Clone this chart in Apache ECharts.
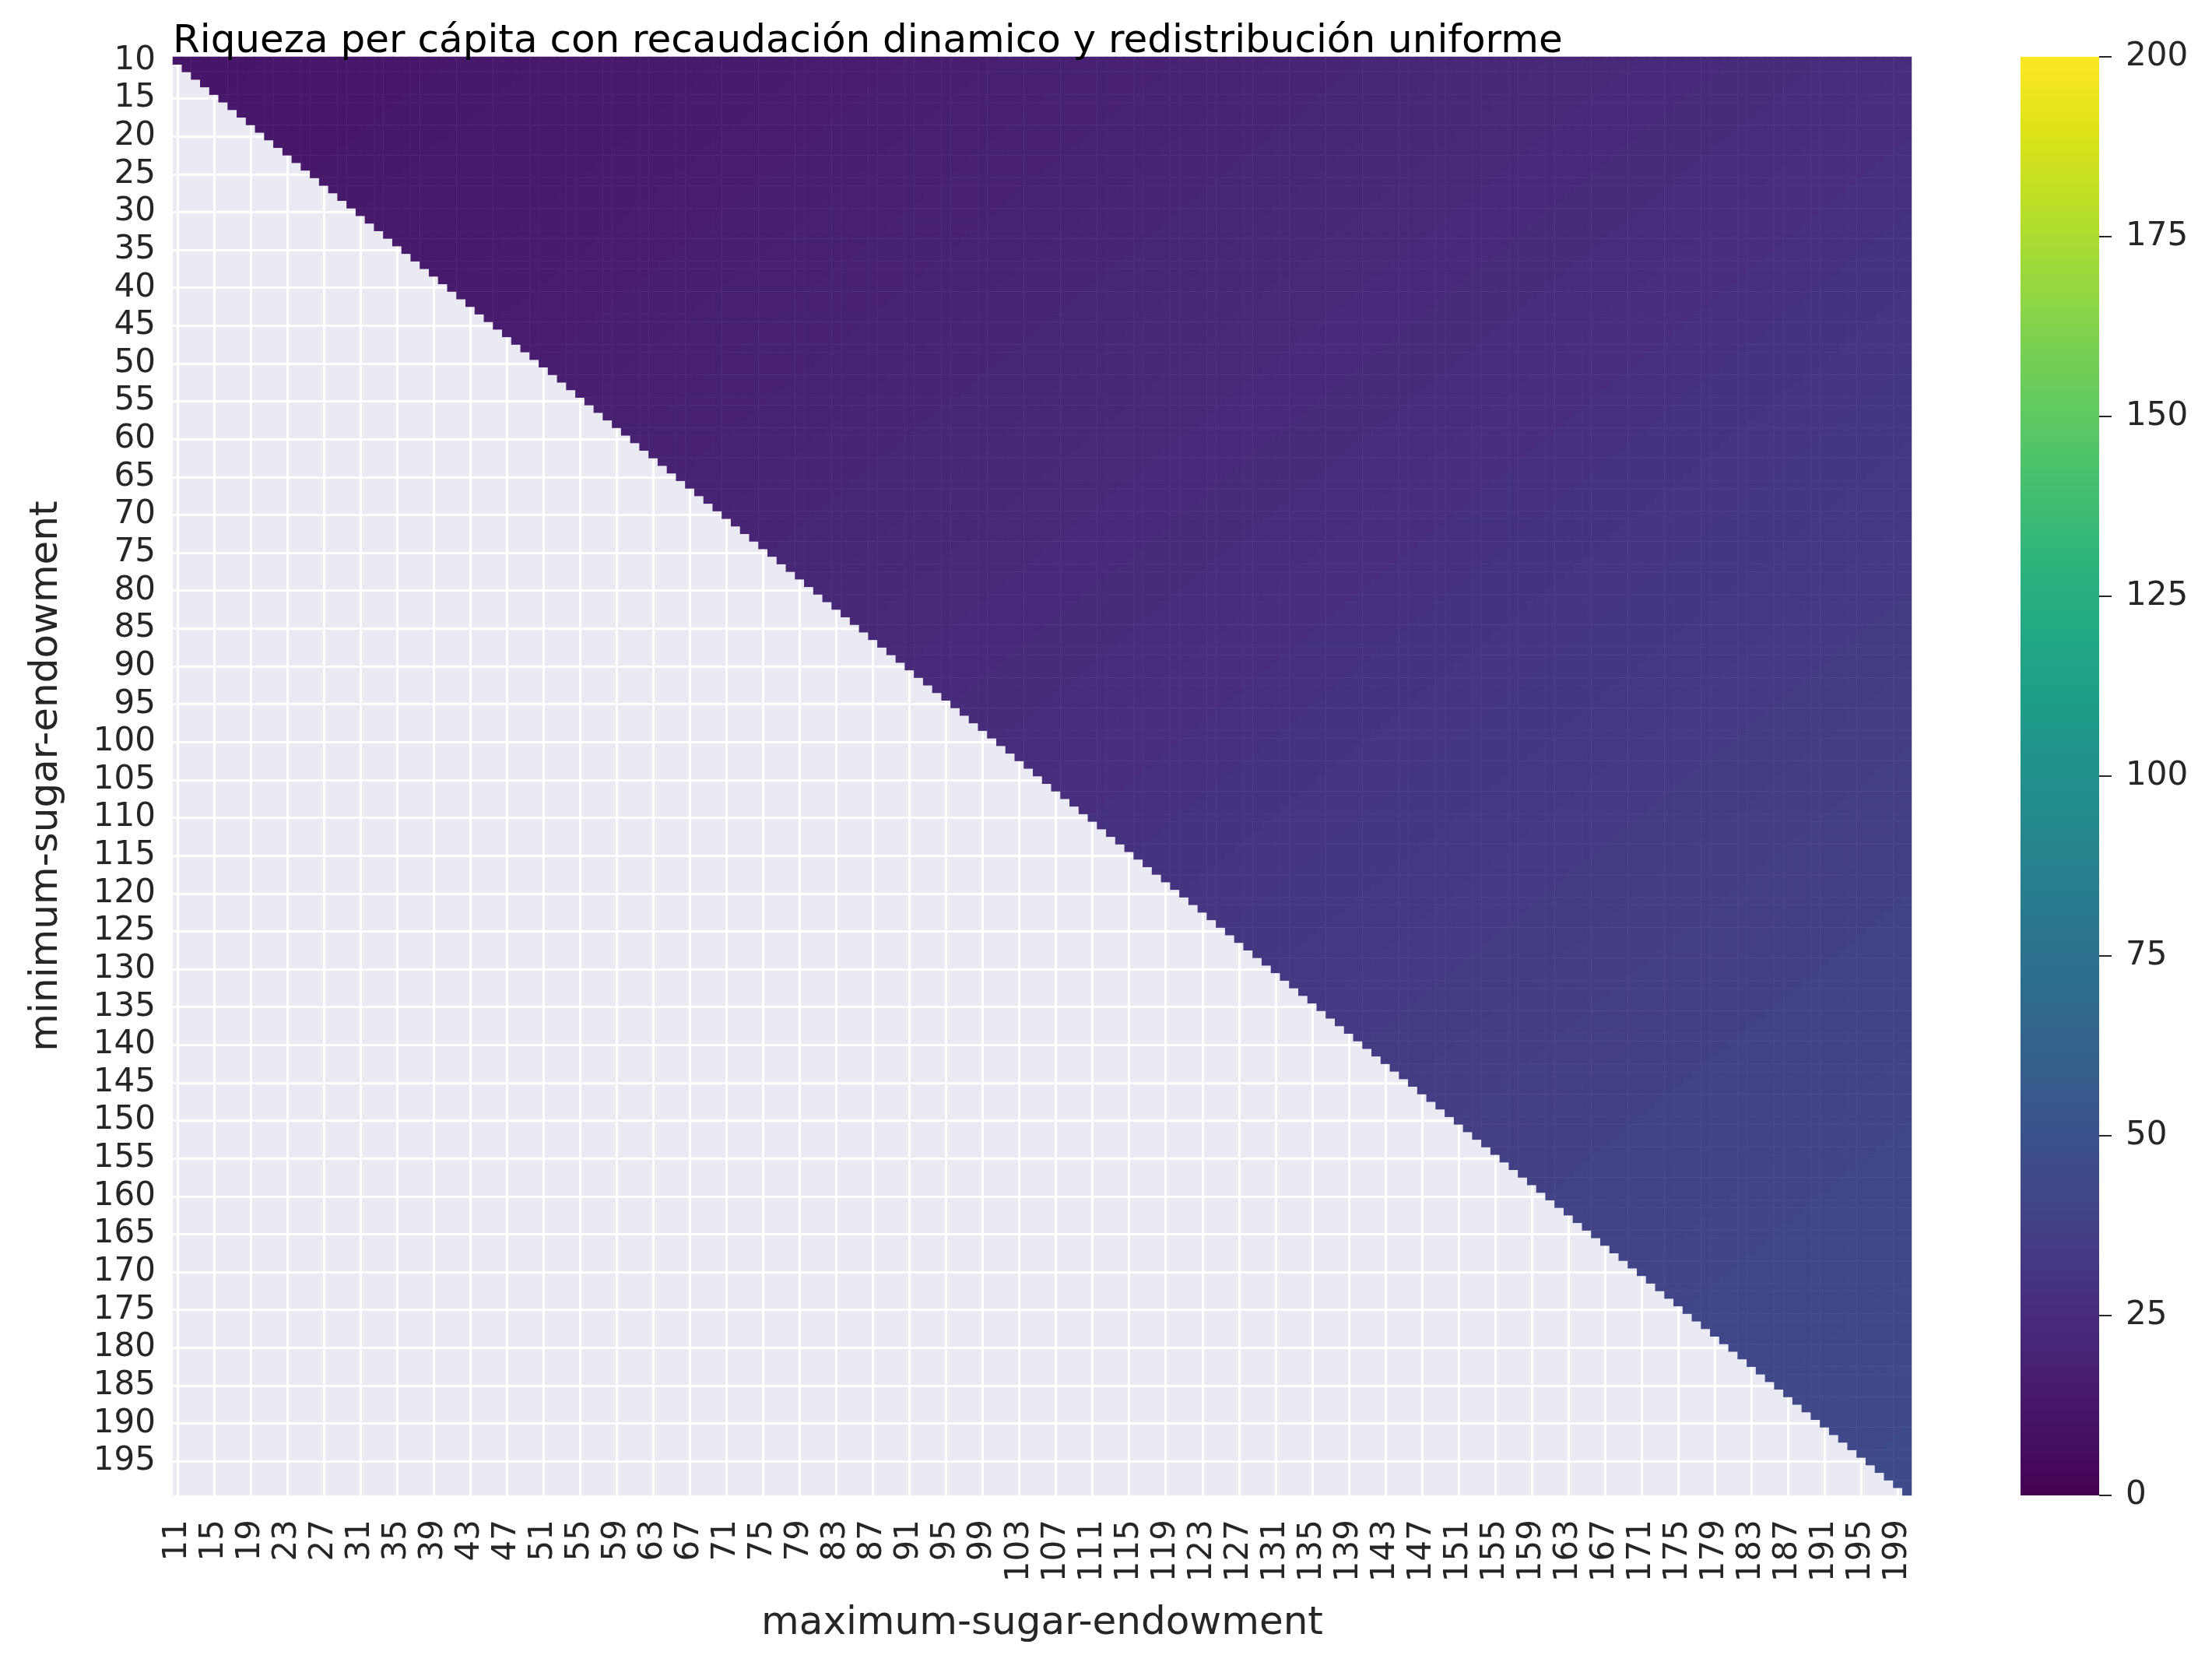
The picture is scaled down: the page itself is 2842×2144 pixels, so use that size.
<!DOCTYPE html>
<html>
<head>
<meta charset="utf-8">
<script src="https://cdn.jsdelivr.net/npm/echarts@6/dist/echarts.min.js"></script>
<style>
html, body { margin: 0; padding: 0; background: #ffffff; }
#chart { width: 2842px; height: 2144px; }
</style>
</head>
<body>
<div id="chart"></div>
<script>
// ---------- text ----------
const titleText = 'Riqueza per cápita con recaudación dinamico y redistribución uniforme';
const xAxisName = 'maximum-sugar-endowment';
const yAxisName = 'minimum-sugar-endowment';

// ---------- categories ----------
const minEndowments = [];            // rows: 10 .. 199
for (let v = 10; v <= 199; v++) minEndowments.push(v);
const maxEndowments = [];            // columns: 11 .. 200
for (let v = 11; v <= 200; v++) maxEndowments.push(v);

// ---------- tick labels ----------
const xTickLabels = [11, 15, 19, 23, 27, 31, 35, 39, 43, 47, 51, 55, 59, 63, 67, 71, 75, 79, 83, 87, 91, 95, 99,
  103, 107, 111, 115, 119, 123, 127, 131, 135, 139, 143, 147, 151, 155, 159, 163, 167, 171, 175, 179, 183, 187, 191, 195, 199];
const yTickLabels = [10, 15, 20, 25, 30, 35, 40, 45, 50, 55, 60, 65, 70, 75, 80, 85, 90, 95, 100, 105, 110, 115,
  120, 125, 130, 135, 140, 145, 150, 155, 160, 165, 170, 175, 180, 185, 190, 195];
const colorbarTicks = [0, 25, 50, 75, 100, 125, 150, 175, 200];

// ---------- values ----------
// The colour is constant along the anti-diagonals (it follows minimum + maximum).
// One reading per band of (minimum + maximum): band 0 = sums 21..30, band 1 = 31..40, ..., band 37 = 391..399.
const bandSumStarts = [21, 31, 41, 51, 61, 71, 81, 91, 101, 111, 121, 131, 141, 151, 161, 171, 181, 191, 201,
  211, 221, 231, 241, 251, 261, 271, 281, 291, 301, 311, 321, 331, 341, 351, 361, 371, 381, 391];
const wealthReadings = [11.9, 12.3, 12.8, 13.3, 13.9, 14.6, 15.3, 16.0, 16.8, 17.6, 18.5, 19.4, 20.3, 21.2,
  22.1, 23.0, 23.9, 24.9, 26.0, 27.1, 28.2, 29.3, 30.4, 31.5, 32.6, 33.7, 34.8, 35.8, 36.7, 37.6, 38.5,
  39.4, 40.3, 41.2, 42.1, 43.0, 43.9, 44.7];

// ---------- colour map (viridis) ----------
const viridis = ['#440154', '#471365', '#482475', '#463480', '#414487', '#3b528b', '#355f8d', '#2f6c8e',
  '#2a788e', '#25848e', '#21918c', '#1e9c89', '#22a884', '#2fb47c', '#44bf70', '#5ec962', '#7ad151',
  '#9bd93c', '#bddf26', '#dfe318', '#fde725'];

// ---------- build heatmap table ----------
function bandIndex(s) {
  let k = 0;
  for (let i = 0; i < bandSumStarts.length; i++) if (bandSumStarts[i] <= s) k = i;
  return k;
}
const heatData = [];
minEndowments.forEach(function (mn, yi) {
  maxEndowments.forEach(function (mx, xi) {
    if (mx <= mn) return;
    heatData.push([xi, yi, wealthReadings[bandIndex(mn + mx)]]);
  });
});

const xTickSet = new Set(xTickLabels.map(String));
const yTickSet = new Set(yTickLabels.map(String));
const xInterval = function (i, v) { return xTickSet.has(String(v)); };
const yInterval = function (i, v) { return yTickSet.has(String(v)); };

const FONT = 'DejaVu Sans';
const TXT = '#262626';
const TICK_FS = 42;

// colour bar geometry
const CB_LEFT = 2596, CB_TOP = 73, CB_W = 101, CB_H = 1848;

const colorbarFill = new echarts.graphic.LinearGradient(0, 1, 0, 0,
  viridis.map(function (c, i) { return { offset: i / (viridis.length - 1), color: c }; }));

const chart = echarts.init(document.getElementById('chart'), null, { renderer: 'canvas' });
chart.setOption({
  animation: false,
  backgroundColor: '#ffffff',
  textStyle: { fontFamily: FONT },
  title: {
    text: titleText,
    left: 222,
    top: 29,
    padding: 0,
    textStyle: { fontFamily: FONT, fontSize: 50, fontWeight: 'normal', color: '#000000' }
  },
  grid: [
    { left: 222, top: 73, width: 2234, height: 1848, show: true, backgroundColor: '#EAEAF2', borderWidth: 0 },
    // thin grid sitting on the right edge of the colour bar, carrying the colour-bar scale
    { left: CB_LEFT + CB_W, top: CB_TOP, width: 1, height: CB_H, show: false }
  ],
  graphic: [{
    type: 'rect', silent: true, z: 1,
    shape: { x: CB_LEFT, y: CB_TOP, width: CB_W, height: CB_H },
    style: { fill: colorbarFill }
  }],
  xAxis: [
    {
      gridIndex: 0, type: 'category', data: maxEndowments.map(String), boundaryGap: true,
      axisLine: { show: false }, axisTick: { show: false },
      axisLabel: { interval: xInterval, rotate: 90, margin: 31, fontSize: TICK_FS, color: TXT, fontFamily: FONT },
      splitLine: { show: true, interval: xInterval, alignWithLabel: true, lineStyle: { color: '#ffffff', width: 3 } },
      name: xAxisName, nameLocation: 'middle', nameGap: 140,
      nameTextStyle: { fontSize: 50, color: TXT, fontFamily: FONT }
    },
    { gridIndex: 1, type: 'value', min: 0, max: 1, show: false }
  ],
  yAxis: [
    {
      gridIndex: 0, type: 'category', data: minEndowments.map(String), inverse: true, boundaryGap: true,
      axisLine: { show: false }, axisTick: { show: false },
      axisLabel: { interval: yInterval, margin: 22, fontSize: TICK_FS, color: TXT, fontFamily: FONT },
      splitLine: { show: true, interval: yInterval, alignWithLabel: true, lineStyle: { color: '#ffffff', width: 3 } },
      name: yAxisName, nameLocation: 'middle', nameGap: 137, nameRotate: 90,
      nameTextStyle: { fontSize: 50, color: TXT, fontFamily: FONT }
    },
    {
      gridIndex: 1, type: 'value', position: 'right',
      min: colorbarTicks[0], max: colorbarTicks[colorbarTicks.length - 1], interval: 25,
      axisLine: { show: false },
      axisTick: { show: true, inside: false, length: 16, lineStyle: { color: TXT, width: 2 } },
      axisLabel: { margin: 33, fontSize: TICK_FS, color: TXT, fontFamily: FONT },
      splitLine: { show: false }
    }
  ],
  visualMap: {
    type: 'continuous', show: false, min: 0, max: 200, seriesIndex: 0,
    inRange: { color: viridis }
  },
  series: [{
    type: 'heatmap', xAxisIndex: 0, yAxisIndex: 0, data: heatData,
    progressive: 0, animation: false,
    emphasis: { disabled: true }
  }]
});
</script>
</body>
</html>
